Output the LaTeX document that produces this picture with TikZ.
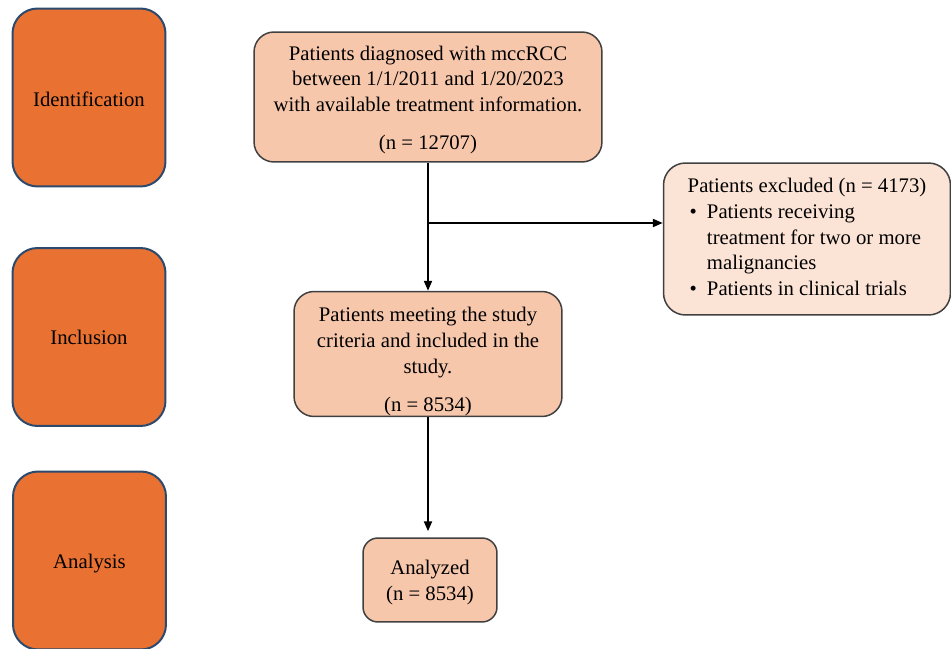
\documentclass[tikz,border=0pt]{standalone}
\usepackage{fontspec}
\setmainfont{Liberation Serif}
\usetikzlibrary{arrows.meta}
\definecolor{stageorange}{HTML}{E97132}
\definecolor{stageedge}{HTML}{2B4A6E}
\definecolor{flowpeach}{HTML}{F7C7AC}
\definecolor{flowlight}{HTML}{FBE3D6}
\definecolor{flowedge}{HTML}{404040}
\begin{document}
\begin{tikzpicture}[x=0.02cm, y=-0.02cm,
    stagebox/.style={draw=stageedge, line width=0.04cm, fill=stageorange,
      rounded corners=0.5cm, minimum width=3.06cm, minimum height=3.56cm, inner sep=0pt},
    flowbox/.style={draw=flowedge, line width=0.03cm, fill=flowpeach,
      rounded corners=0.4cm, inner sep=0pt, align=center},
    flowarrow/.style={line width=0.04cm, -{Triangle[length=0.2cm,width=0.16cm]}}]
  \useasboundingbox (0,0) rectangle (951,649);
  {\fontsize{11.8}{14.6}\selectfont

  % Stage boxes on the left
  \node [stagebox] (ident) at (89.000000,97.500000) {\rule{0pt}{0.36cm}Identification};
  \node [stagebox] (incl) at (89.000000,337.000000) {\rule{0pt}{0.32cm}Inclusion};
  \node [stagebox] (anls) at (89.500000,560.500000) {\rule{0pt}{0.40cm}Analysis};

  % Box: diagnosed patients
  \node [flowbox, minimum width=6.96cm, minimum height=2.60cm] (diag) at (428.000000,97.000000)
    {\rule{0pt}{0.40cm}Patients diagnosed with mccRCC\\ between 1/1/2011 and 1/20/2023\\
     with available treatment information.\\[0.24cm] (n = 12707)};

  % Box: excluded patients
  \node [flowbox, fill=flowlight, rounded corners=0.44cm, minimum width=5.74cm, minimum height=3.04cm] (excl) at (807.000000,239.000000)
    {\begin{tabular}{@{\hspace{0.04cm}}c@{\hspace{0.2cm}}l@{}}
       \multicolumn{2}{@{}l@{}}{Patients excluded (n = 4173)}\\
       \textbullet & Patients receiving\\
                   & treatment for two or more\\
                   & malignancies\\
       \textbullet & Patients in clinical trials
     \end{tabular}};

  % Box: included patients
  \node [flowbox, minimum width=5.36cm, minimum height=2.50cm] (incd) at (428.000000,354.000000)
    {\rule{0pt}{0.60cm}Patients meeting the study\\ criteria and included in the\\ study.\\[0.26cm] (n = 8534)};

  % Box: analyzed patients
  \node [flowbox, rounded corners=0.3cm, minimum width=2.68cm, minimum height=1.68cm] (anlz) at (430.000000,580.000000)
    {\rule{0pt}{0.40cm}Analyzed\\ (n = 8534)};

  % Drawing arrows
  \coordinate (split) at (428.000000,223.000000);
  \draw [flowarrow] (diag.south) -- (incd.north);
  \draw [flowarrow] (split) -- (split -| excl.west);
  \draw [flowarrow, shorten >=0.12cm] (incd.south) -- (incd.south |- anlz.north);
  }
\end{tikzpicture}
\end{document}
